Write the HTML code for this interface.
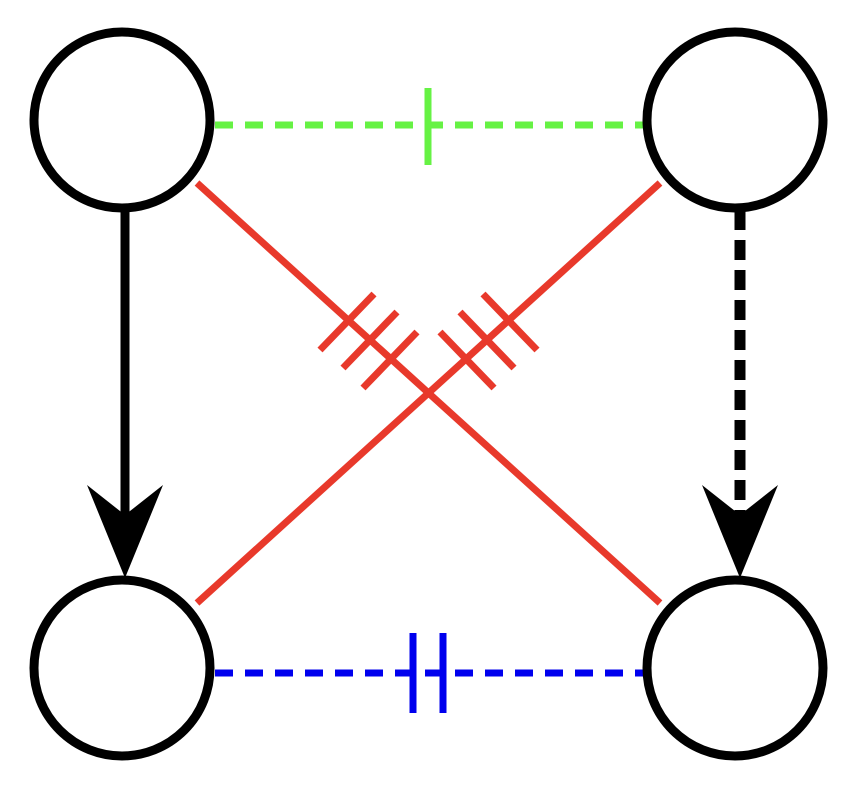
<!DOCTYPE html>
<html><head><style>html,body{margin:0;padding:0;background:#fff}</style></head>
<body>
<svg width="857" height="795" viewBox="0 0 857 795" xmlns="http://www.w3.org/2000/svg">
<g stroke="#e8392b" stroke-width="7" fill="none">
<line x1="197" y1="183" x2="660" y2="603"/>
<line x1="660" y1="183" x2="197" y2="603"/>
<line x1="320" y1="350" x2="374" y2="294"/>
<line x1="343" y1="368" x2="397" y2="312"/>
<line x1="363" y1="388" x2="417" y2="332"/>
<line x1="537" y1="350" x2="483" y2="294"/>
<line x1="514" y1="368" x2="460" y2="312"/>
<line x1="494" y1="388" x2="440" y2="332"/>
</g>
<line x1="215" y1="125" x2="645" y2="125" stroke="#66f244" stroke-width="7" stroke-dasharray="18,12"/>
<line x1="428" y1="88" x2="428" y2="165" stroke="#66f244" stroke-width="7"/>
<line x1="215" y1="673" x2="645" y2="673" stroke="#0000ee" stroke-width="7" stroke-dasharray="18,12"/>
<line x1="413" y1="633" x2="413" y2="713" stroke="#0000ee" stroke-width="7"/>
<line x1="443" y1="633" x2="443" y2="713" stroke="#0000ee" stroke-width="7"/>
<line x1="125" y1="210" x2="125" y2="520" stroke="#000" stroke-width="9"/>
<polygon points="87,485 125,515 163,485 125,578" fill="#000"/>
<line x1="740" y1="210" x2="740" y2="520" stroke="#000" stroke-width="11" stroke-dasharray="20,10"/>
<polygon points="702,485 740,515 778,485 740,578" fill="#000"/>
<g stroke="#000" stroke-width="9" fill="#fff">
<circle cx="122" cy="120" r="88"/>
<circle cx="735" cy="120" r="88"/>
<circle cx="122" cy="668" r="88"/>
<circle cx="735" cy="668" r="88"/>
</g>
</svg>
</body></html>
